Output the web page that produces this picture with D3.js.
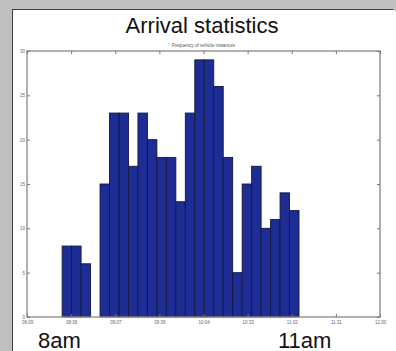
<!DOCTYPE html>
<html>
<head>
<meta charset="utf-8">
<script src="https://cdn.jsdelivr.net/npm/d3@7"></script>
<style>
  html, body { margin: 0; padding: 0; background: #c0c0c0; }
  svg { display: block; font-family: "Liberation Sans", Arial, sans-serif; }
</style>
</head>
<body>
<svg id="chart" width="396" height="351"></svg>
<script>
// ---- data ----
const title = "Arrival statistics";
const subtitle = "Frequency of vehicle instances";
const timeTickLabels = ["08:09","08:38","09:07","09:36","10:04","10:33","11:02","11:31","12:00"];
const axisStart = "08:09";
const axisEnd = "12:00";
const binStart = "08:32";
const binMinutes = 6.2;
const counts = [8,8,6,0,15,23,23,17,23,20,18,18,13,23,29,29,26,18,5,15,17,10,11,14,12];
const yTicks = [0,5,10,15,20,25,30];
const cornerLabels = ["8am","11am"];

// ---- helpers ----
const toMin = s => { const [h,m] = s.split(":").map(Number); return h*60+m; };

const svg = d3.select("#chart");
const W = 396, H = 351;

// panel
svg.append("rect").attr("x", 0).attr("y", 0).attr("width", W).attr("height", H).attr("fill", "#c0c0c0");
svg.append("rect").attr("x", 12.5).attr("y", 9.5).attr("width", W).attr("height", H)
  .attr("fill", "#ffffff").attr("stroke", "#404040").attr("stroke-width", 1);
svg.append("path").attr("d", `M384,0 L${W},0 L${W},12 Z`).attr("fill", "#c0c0c0");

const pL = 27, pR = 380, pT = 51, pB = 317;
const x = d3.scaleLinear().domain([toMin(axisStart), toMin(axisEnd)]).range([pL, pR]);
const y = d3.scaleLinear().domain([0, 30]).range([pB, pT]);

const tickVals = timeTickLabels.map((_, i) => toMin(axisStart) + i * (toMin(axisEnd) - toMin(axisStart)) / (timeTickLabels.length - 1));

// bars
const b0 = toMin(binStart);
svg.append("g").selectAll("rect").data(counts).join("rect")
  .attr("x", (d, i) => x(b0 + i * binMinutes))
  .attr("width", (d, i) => x(b0 + (i + 1) * binMinutes) - x(b0 + i * binMinutes))
  .attr("y", d => y(d))
  .attr("height", d => y(0) - y(d))
  .attr("fill", d => d > 0 ? "#1e2c96" : "none")
  .attr("stroke", d => d > 0 ? "#14183a" : "none")
  .attr("stroke-width", 0.9);

// frame
const axisColor = "#8f8f8f";
svg.append("rect").attr("x", pL).attr("y", pT).attr("width", pR - pL).attr("height", pB - pT)
  .attr("fill", "none").attr("stroke", axisColor).attr("stroke-width", 1.4);

// axes (ticks inward), using d3 axes
const xTickFmt = (d, i) => timeTickLabels[i];
const gxb = svg.append("g").attr("transform", `translate(0,${pB})`)
  .call(d3.axisBottom(x).tickValues(tickVals).tickSizeInner(-3).tickSizeOuter(0).tickPadding(3.5).tickFormat(xTickFmt));
const gxt = svg.append("g").attr("transform", `translate(0,${pT})`)
  .call(d3.axisTop(x).tickValues(tickVals).tickSizeInner(-3).tickSizeOuter(0).tickFormat(""));
const gyl = svg.append("g").attr("transform", `translate(${pL},0)`)
  .call(d3.axisLeft(y).tickValues(yTicks).tickSizeInner(-3).tickSizeOuter(0).tickPadding(2).tickFormat(d3.format("d")));
const gyr = svg.append("g").attr("transform", `translate(${pR},0)`)
  .call(d3.axisRight(y).tickValues(yTicks).tickSizeInner(-3).tickSizeOuter(0).tickFormat(""));
[gxb, gxt, gyl, gyr].forEach(g => {
  g.select(".domain").remove();
  g.selectAll(".tick line").attr("stroke", "#777").attr("stroke-width", 1);
  g.selectAll(".tick text").attr("fill", "#666").attr("font-size", 4.5)
    .attr("font-family", "Liberation Sans, Arial, sans-serif");
});

// titles
svg.append("text").attr("x", 202).attr("y", 32.5).attr("text-anchor", "middle")
  .attr("font-size", 22).attr("fill", "#111").text(title);
svg.append("text").attr("x", (pL + pR) / 2).attr("y", 46.5).attr("text-anchor", "middle")
  .attr("font-size", 4.6).attr("fill", "#555").text(subtitle);

// corner labels
svg.append("text").attr("x", 38).attr("y", 347.5).attr("font-size", 22).attr("fill", "#111").text(cornerLabels[0]);
svg.append("text").attr("x", 278).attr("y", 347.5).attr("font-size", 22).attr("fill", "#111").text(cornerLabels[1]);
</script>
</body>
</html>
